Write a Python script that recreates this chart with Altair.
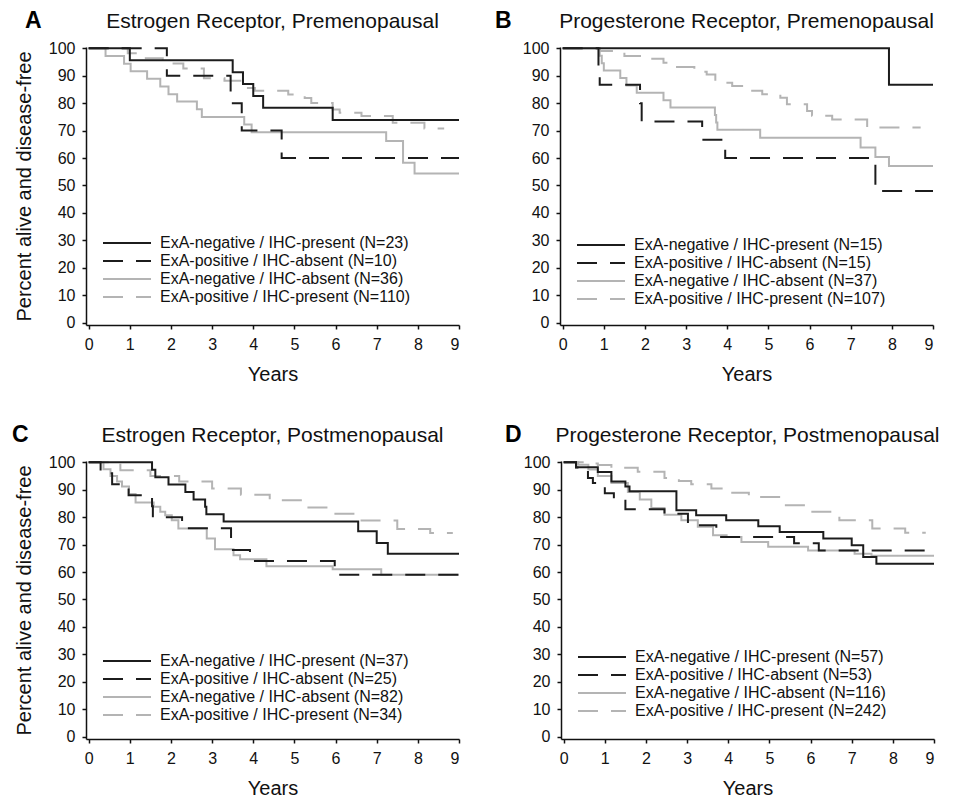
import altair as alt
import pandas as pd

# ---------------- data ----------------
titles = ["Estrogen Receptor, Premenopausal", "Progesterone Receptor, Premenopausal",
          "Estrogen Receptor, Postmenopausal", "Progesterone Receptor, Postmenopausal"]
letters = ["A", "B", "C", "D"]
groups = ["ExA-negative / IHC-present", "ExA-positive / IHC-absent",
          "ExA-negative / IHC-absent", "ExA-positive / IHC-present"]
counts_a = [23, 10, 36, 110]
counts_b = [15, 15, 37, 107]
counts_c = [37, 25, 82, 34]
counts_d = [57, 53, 116, 242]
year_ticks = list(range(0, 10))
pct_ticks = list(range(0, 101, 10))

# Panel A
a1_t = [0, 1.0, 3.5, 3.75, 4.0, 4.24, 5.93, 9.0]
a1_v = [100, 95.7, 91.3, 87.0, 82.6, 78.3, 73.9, 73.9]
a2_t = [0, 1.9, 3.45, 3.72, 4.69, 9.0]
a2_v = [100, 90, 80, 70, 60, 60]
a3_t = [0, 0.41, 0.86, 1.02, 1.42, 1.74, 1.94, 2.15, 2.63, 2.75, 3.78, 3.96, 7.23, 7.64, 7.92, 9.0]
a3_v = [100, 97.2, 94.4, 91.7, 88.9, 86.1, 83.3, 80.6, 77.8, 75.0, 72.2, 69.4, 66.2, 58.3, 54.4, 54.4]
a4_t = [0, 0.95, 1.2, 1.8, 2.3, 2.8, 3.3, 3.75, 4.04, 4.85, 5.25, 5.41, 5.93, 6.1, 6.63, 7.39, 8.16, 8.64]
a4_v = [100, 98.2, 96.4, 94.5, 92.7, 89.1, 88.2, 85.5, 84.5, 83.2, 81.9, 80.1, 77.7, 76.5, 75.3, 72.9, 70.8, 70.8]

# Panel B
b1_t = [0, 7.93, 9.0]
b1_v = [100, 86.7, 86.7]
b2_t = [0, 0.87, 0.9, 1.88, 1.92, 3.39, 3.95, 7.6, 9.0]
b2_v = [100, 93.3, 86.7, 80.0, 73.3, 66.7, 60.0, 48.0, 48.0]
b3_t = [0, 0.9, 0.95, 1.0, 1.4, 1.55, 1.8, 2.45, 2.62, 3.7, 3.73, 3.76, 4.8, 7.24, 7.6, 7.93, 9.0]
b3_v = [100, 97.3, 94.6, 91.9, 89.2, 86.5, 83.8, 81.1, 78.4, 75.7, 73.0, 70.3, 67.4, 63.8, 60.4, 57.1, 57.1]
b4_t = [0, 0.9, 1.5, 1.96, 2.45, 2.65, 3.2, 3.5, 3.71, 4.12, 4.48, 4.85, 5.29, 5.45, 5.94, 6.06, 6.55, 7.4, 8.7]
b4_v = [100, 99.0, 97.2, 96.2, 94.8, 93.2, 91.5, 90.5, 87.5, 86.3, 84.5, 83.3, 82.0, 79.6, 77.2, 75.4, 74.1, 71.1, 71.1]

# Panel C
c1_t = [0, 1.54, 1.62, 1.94, 2.35, 2.55, 2.83, 2.86, 3.28, 6.55, 7.0, 7.27, 9.0]
c1_v = [100, 97.3, 94.6, 91.9, 89.2, 86.5, 83.8, 81.1, 78.4, 74.9, 70.6, 66.7, 66.7]
c2_t = [0, 0.29, 0.57, 0.97, 1.54, 1.56, 2.27, 3.46, 3.48, 3.92, 5.98, 9.0]
c2_v = [100, 96, 92, 88, 84, 80, 76, 72, 68, 64, 59, 59]
c3_t = [0, 0.36, 0.53, 0.69, 0.81, 0.98, 1.14, 1.58, 1.74, 1.86, 2.02, 2.18, 2.87, 3.07, 3.52, 3.68, 4.32, 5.93, 7.11, 9.0]
c3_v = [100, 97.5, 95.0, 93.0, 91.2, 88.5, 85.4, 83.8, 82.0, 80.7, 78.9, 75.9, 72.2, 68.3, 66.1, 64.7, 62.1, 61.0, 59.0, 59.0]
c4_t = [0, 0.77, 1.5, 2.2, 3.0, 3.7, 4.4, 5.2, 5.9, 6.6, 7.5, 8.3, 8.85]
c4_v = [100, 97.1, 95.0, 93.0, 90.5, 88.2, 86.2, 83.5, 81.3, 78.8, 75.7, 74.2, 74.2]

# Panel D
d1_t = [0, 0.3, 0.83, 1.16, 1.5, 1.6, 2.74, 3.22, 3.95, 4.73, 5.25, 6.31, 7.0, 7.28, 7.6, 9.0]
d1_v = [100, 98.2, 96.5, 93.0, 91.2, 89.5, 82.5, 80.7, 78.9, 76.7, 74.6, 72.2, 69.8, 65.5, 63.0, 63.0]
d2_t = [0, 0.3, 0.59, 0.71, 1.0, 1.22, 1.5, 2.45, 3.02, 3.71, 5.6, 6.2, 9.0]
d2_v = [100, 98.1, 94.3, 92.5, 88.7, 86.5, 82.9, 81.3, 77.1, 72.8, 70.5, 67.9, 67.9]
d3_t = [0, 0.35, 0.6, 0.83, 1.16, 1.56, 1.85, 2.13, 2.45, 2.86, 3.26, 3.63, 3.96, 4.32, 4.97, 5.94, 7.07, 7.48, 9.0]
d3_v = [100, 99.1, 97.4, 95.0, 92.5, 89.2, 86.5, 83.4, 80.9, 78.9, 76.5, 73.4, 72.8, 71.0, 69.2, 67.9, 66.7, 65.9, 65.9]
d4_t = [0, 0.5, 0.83, 1.16, 1.8, 2.45, 2.8, 3.1, 3.59, 4.0, 4.5, 5.4, 6.0, 6.7, 7.5, 8.3, 8.8]
d4_v = [100, 99.6, 99.0, 98.0, 96.6, 94.3, 93.2, 92.0, 90.5, 88.9, 87.4, 84.4, 82.0, 78.9, 75.9, 74.3, 74.3]

# ---------------- styling ----------------
FONT = "Liberation Sans"
BLACK = "#1c1c1c"
GRAY = "#b4b4b4"
series_colors = [BLACK, BLACK, GRAY, GRAY]
series_dashes = [[1, 0], [20, 13], [1, 0], [20, 13]]
W, H = 373, 278


def panel(idx, series, counts, letter_dx, legend_y, show_ytitle):
    labels = [f"{g} (N={n})" for g, n in zip(groups, counts)]
    rows = []
    # gray series first so black lines are drawn on top
    for k in [2, 3, 0, 1]:
        t, v = series[k]
        for tt, vv in zip(t, v):
            rows.append({"year": tt, "pct": vv, "series": labels[k]})
    df = pd.DataFrame(rows)

    leg = alt.Legend(orient="none", legendX=33, legendY=legend_y, title=None,
                     symbolType="M-4.8,0H4.8", symbolSize=100, symbolStrokeWidth=2,
                     labelOffset=25, labelFontSize=16, labelFont=FONT, labelColor="#111",
                     labelLimit=400, rowPadding=2, padding=0)
    lines = alt.Chart(df).mark_line(interpolate="step-after", strokeWidth=2).encode(
        x=alt.X("year:Q", scale=alt.Scale(domain=[-0.065, 9], nice=False, zero=False),
                axis=alt.Axis(values=year_ticks, title="Years", format="d")),
        y=alt.Y("pct:Q", scale=alt.Scale(domain=[-0.9, 100.5], nice=False, zero=False),
                axis=alt.Axis(values=pct_ticks,
                              title="Percent alive and disease-free" if show_ytitle else None)),
        color=alt.Color("series:N", scale=alt.Scale(domain=labels, range=series_colors),
                        legend=leg, sort=labels),
        strokeDash=alt.StrokeDash("series:N", scale=alt.Scale(domain=labels, range=series_dashes),
                                  legend=leg, sort=labels),
    )
    tdf = pd.DataFrame({"title": [titles[idx]], "letter": [letters[idx]]})
    title = alt.Chart(tdf).mark_text(font=FONT, fontSize=21, align="center",
                                     baseline="alphabetic", color="#111").encode(
        text="title:N", x=alt.value(W / 2), y=alt.value(-19))
    letter = alt.Chart(tdf).mark_text(font=FONT, fontSize=23, fontWeight="bold", align="left",
                                      baseline="alphabetic", color="#000").encode(
        text="letter:N", x=alt.value(letter_dx), y=alt.value(-19))
    return alt.layer(lines, title, letter).properties(width=W, height=H)


pa = panel(0, [(a1_t, a1_v), (a2_t, a2_v), (a3_t, a3_v), (a4_t, a4_v)], counts_a, -61, 188, True)
pb = panel(1, [(b1_t, b1_v), (b2_t, b2_v), (b3_t, b3_v), (b4_t, b4_v)], counts_b, -65, 190, False)
pc = panel(2, [(c1_t, c1_v), (c2_t, c2_v), (c3_t, c3_v), (c4_t, c4_v)], counts_c, -74, 192, True)
pd_ = panel(3, [(d1_t, d1_v), (d2_t, d2_v), (d3_t, d3_v), (d4_t, d4_v)], counts_d, -56, 188, False)

row1 = alt.hconcat(pa, pb, spacing=32).resolve_scale(color="independent", strokeDash="independent")
row2 = alt.hconcat(pc, pd_, spacing=42).resolve_scale(color="independent", strokeDash="independent")

chart = alt.vconcat(row1, row2, spacing=40).resolve_scale(
    color="independent", strokeDash="independent"
).properties(padding={"left": 4, "top": 2, "right": 2, "bottom": 2}).configure_view(
    stroke=None
).configure_axis(
    grid=False, domainColor="#111", domainWidth=1.5, tickColor="#111", tickWidth=1.5,
    tickSize=4, labelFont=FONT, labelFontSize=16, labelColor="#111", labelPadding=7,
    titleFont=FONT, titleFontSize=20, titleFontWeight="normal", titleColor="#111"
).configure_axisX(
    titlePadding=12, labelPadding=7
).configure_axisY(
    titlePadding=14
)

chart.save("out.html", embed_options={"renderer": "svg", "actions": False})
